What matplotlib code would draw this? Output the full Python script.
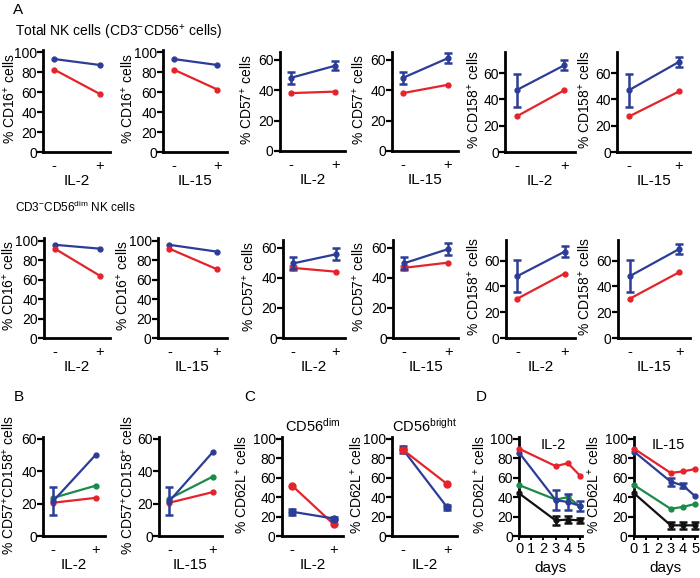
import matplotlib
matplotlib.use("Agg")
import matplotlib.pyplot as plt
import numpy as np

plt.rcParams['font.family'] = ['Liberation Sans', 'DejaVu Sans']
plt.rcParams['mathtext.fontset'] = 'custom'
plt.rcParams['mathtext.rm'] = 'Liberation Sans'
plt.rcParams['mathtext.it'] = 'Liberation Sans:italic'
plt.rcParams['mathtext.bf'] = 'Liberation Sans:bold'

BLUE = '#2b3d97'
RED = '#e5232b'
GREEN = '#1b8a4a'
BLACK = '#111111'

# ---------------- data ----------------
cats = ['-', '+']
# Row A1 (total NK)
a1_cd16_il2_blue = [93, 87]
a1_cd16_il2_red = [82.5, 58]
a1_cd16_il15_blue = [93, 87]
a1_cd16_il15_red = [82.5, 62.5]
a1_cd57_il2_blue = [48, 56]
a1_cd57_il2_blue_err = [4, 3]
a1_cd57_il2_red = [38, 39]
a1_cd57_il15_blue = [48, 61]
a1_cd57_il15_blue_err = [4, 3.5]
a1_cd57_il15_red = [38, 43.5]
a1_cd158_il2_blue = [47, 66]
a1_cd158_il2_blue_err = [12.5, 4]
a1_cd158_il2_red = [27, 47]
a1_cd158_il15_blue = [47, 68.5]
a1_cd158_il15_blue_err = [12.5, 4]
a1_cd158_il15_red = [27, 46]
# Row A2 (CD56dim)
a2_cd16_il2_blue = [96, 92]
a2_cd16_il2_red = [92, 64]
a2_cd16_il15_blue = [96, 89]
a2_cd16_il15_red = [92, 71]
a2_cd57_il2_blue = [49.5, 55.5]
a2_cd57_il2_blue_err = [4, 4]
a2_cd57_il2_red = [46.5, 44]
a2_cd57_il2_red_err = [1.5, 0]
a2_cd57_il15_blue = [49.5, 59]
a2_cd57_il15_blue_err = [4, 4]
a2_cd57_il15_red = [46.5, 50]
a2_cd57_il15_red_err = [1.5, 0]
a2_cd158_il2_blue = [48, 67]
a2_cd158_il2_blue_err = [12.5, 4]
a2_cd158_il2_red = [30.5, 50]
a2_cd158_il15_blue = [48, 69]
a2_cd158_il15_blue_err = [12.5, 4]
a2_cd158_il15_red = [30.5, 51]
# B
b_il2_blue = [21.5, 50]
b_il2_blue_err = [8.5, 0]
b_il2_green = [23.5, 31]
b_il2_red = [20.5, 23.5]
b_il15_blue = [21.5, 51.5]
b_il15_blue_err = [8.5, 0]
b_il15_green = [23, 36.5]
b_il15_red = [20.5, 27]
# C
c_dim_red = [52, 12]
c_dim_blue = [25, 18]
c_dim_blue_err = [3, 1.5]
c_bright_red = [89, 53.5]
c_bright_blue = [89.5, 29.5]
c_bright_blue_err = [3.5, 2.5]
# D
d_days = [0, 3, 4, 5]
d_il2_red = [90, 72, 75, 62]
d_il2_blue = [86, 37, 35, 31]
d_il2_blue_err = [0, 10, 8, 5]
d_il2_green = [52.5, 37.5, 40, 30.5]
d_il2_black = [44, 16, 17, 16]
d_il2_black_err = [0, 5, 4, 3]
d_il15_red = [90, 65, 66.5, 69]
d_il15_blue = [87, 56, 52, 41]
d_il15_blue_err = [0, 4, 3, 0]
d_il15_green = [52.5, 28, 30, 33]
d_il15_black = [44, 11, 11, 11]
d_il15_black_err = [0, 3.5, 3.5, 3.5]

# ---------------- layout helpers ----------------
W, H = 700, 578
fig = plt.figure(figsize=(7.0, 5.78), dpi=100)


def axpx(left, top, right, bottom):
    ax = fig.add_axes([left / W, 1 - bottom / H, (right - left) / W, (bottom - top) / H])
    ax._px = (left, right)
    return ax


def style(ax, ylim, yticks, ylabel, label_right, xlabel=None, cat=True):
    ax.set_ylim(*ylim)
    ax.set_yticks(yticks)
    for s in ['top', 'right']:
        ax.spines[s].set_visible(False)
    for s in ['left', 'bottom']:
        ax.spines[s].set_linewidth(2.0)
    ax.tick_params(axis='y', direction='out', length=4, width=1.6, pad=0.5, labelsize=10)
    if cat:
        ax.set_xlim(-0.24, 1.22)
        ax.set_xticks([0, 1])
        ax.set_xticklabels(cats)
        ax.tick_params(axis='x', length=0, pad=5, labelsize=10.5)
    ax.set_ylabel(ylabel, fontsize=10)
    left, right = ax._px
    ax.yaxis.set_label_coords((label_right - left) / (right - left), 0.52)
    if xlabel:
        ax.set_xlabel(xlabel, fontsize=11, labelpad=1)


def line(ax, y, color, err=None, ms=3.5, x=None):
    if x is None:
        x = np.arange(len(y))
    ax.plot(x, y, color=color, lw=1.6, marker='o', ms=ms, clip_on=False, zorder=3)
    if err is not None:
        e = np.array(err, dtype=float)
        m = e > 0
        ax.errorbar(np.array(x)[m], np.array(y)[m], yerr=e[m], fmt='none', ecolor=color,
                    elinewidth=1.8, capsize=3, capthick=1.8, clip_on=False, zorder=3)


cd16 = r'% CD16$^{+}$ cells'
cd57 = r'% CD57$^{+}$ cells'
cd158 = r'% CD158$^{+}$ cells'

# Row 1
ax = axpx(43, 50, 110, 152); style(ax, (0, 102), range(0, 101, 20), cd16, 18, 'IL-2')
line(ax, a1_cd16_il2_blue, BLUE); line(ax, a1_cd16_il2_red, RED)
ax = axpx(163, 50, 227, 152); style(ax, (0, 102), range(0, 101, 20), cd16, 136, 'IL-15')
line(ax, a1_cd16_il15_blue, BLUE); line(ax, a1_cd16_il15_red, RED)
ax = axpx(280, 52, 345, 151); style(ax, (0, 65), range(0, 61, 20), cd57, 255, 'IL-2')
line(ax, a1_cd57_il2_red, RED); line(ax, a1_cd57_il2_blue, BLUE, a1_cd57_il2_blue_err)
ax = axpx(392, 52, 458, 151); style(ax, (0, 65), range(0, 61, 20), cd57, 367, 'IL-15')
line(ax, a1_cd57_il15_red, RED); line(ax, a1_cd57_il15_blue, BLUE, a1_cd57_il15_blue_err)
ax = axpx(505, 52, 575, 152); style(ax, (0, 76), range(0, 61, 20), cd158, 482, 'IL-2')
line(ax, a1_cd158_il2_red, RED); line(ax, a1_cd158_il2_blue, BLUE, a1_cd158_il2_blue_err)
ax = axpx(617, 52, 690, 152); style(ax, (0, 76), range(0, 61, 20), cd158, 593, 'IL-15')
line(ax, a1_cd158_il15_red, RED); line(ax, a1_cd158_il15_blue, BLUE, a1_cd158_il15_blue_err)

# Row 2
ax = axpx(44, 238, 110, 338); style(ax, (0, 103), range(0, 101, 20), cd16, 17, 'IL-2')
line(ax, a2_cd16_il2_blue, BLUE); line(ax, a2_cd16_il2_red, RED)
ax = axpx(158, 238, 227, 338); style(ax, (0, 103), range(0, 101, 20), cd16, 131, 'IL-15')
line(ax, a2_cd16_il15_blue, BLUE); line(ax, a2_cd16_il15_red, RED)
ax = axpx(283, 240, 345, 338); style(ax, (0, 65), range(0, 61, 20), cd57, 257, 'IL-2')
line(ax, a2_cd57_il2_red, RED, a2_cd57_il2_red_err); line(ax, a2_cd57_il2_blue, BLUE, a2_cd57_il2_blue_err)
ax = axpx(393, 240, 458, 338); style(ax, (0, 65), range(0, 61, 20), cd57, 367, 'IL-15')
line(ax, a2_cd57_il15_red, RED, a2_cd57_il15_red_err); line(ax, a2_cd57_il15_blue, BLUE, a2_cd57_il15_blue_err)
ax = axpx(506, 240, 575, 338); style(ax, (0, 76), range(0, 61, 20), cd158, 482, 'IL-2')
line(ax, a2_cd158_il2_red, RED); line(ax, a2_cd158_il2_blue, BLUE, a2_cd158_il2_blue_err)
ax = axpx(618, 240, 690, 338); style(ax, (0, 76), range(0, 61, 20), cd158, 593, 'IL-15')
line(ax, a2_cd158_il15_red, RED); line(ax, a2_cd158_il15_blue, BLUE, a2_cd158_il15_blue_err)

# Row 3 - B
b_lab = r'% CD57$^{+}$CD158$^{+}$ cells'
ax = axpx(43, 437, 105, 536); style(ax, (0, 61), range(0, 61, 20), b_lab, 17, 'IL-2')
line(ax, b_il2_red, RED); line(ax, b_il2_green, GREEN); line(ax, b_il2_blue, BLUE, b_il2_blue_err)
ax = axpx(159, 437, 222, 536); style(ax, (0, 61), range(0, 61, 20), b_lab, 136, 'IL-15')
line(ax, b_il15_red, RED); line(ax, b_il15_green, GREEN); line(ax, b_il15_blue, BLUE, b_il15_blue_err)

# C
c_lab = r'% CD62L$^{+}$ cells'
ax = axpx(282, 437, 343, 536); style(ax, (0, 102), range(0, 101, 20), c_lab, 250, 'IL-2')
line(ax, c_dim_red, RED, ms=5); line(ax, c_dim_blue, BLUE, c_dim_blue_err, ms=5)
ax.set_title(r'CD56$^{\mathrm{dim}}$', fontsize=10.5, pad=4)
ax = axpx(392, 437, 457, 536); style(ax, (0, 102), range(0, 101, 20), c_lab, 365, 'IL-2')
line(ax, c_bright_blue, BLUE, c_bright_blue_err, ms=5); line(ax, c_bright_red, RED, ms=5)
ax.set_title(r'CD56$^{\mathrm{bright}}$', fontsize=10.5, pad=4)

# D
for left, right, lr, title, red, blue, berr, green, black, kerr in [
    (519, 582, 488, 'IL-2', d_il2_red, d_il2_blue, d_il2_blue_err, d_il2_green, d_il2_black, d_il2_black_err),
    (634, 697, 602, 'IL-15', d_il15_red, d_il15_blue, d_il15_blue_err, d_il15_green, d_il15_black, d_il15_black_err),
]:
    ax = axpx(left, 437, right, 536)
    style(ax, (0, 102), range(0, 101, 20), c_lab, lr, 'days', cat=False)
    ax.set_xlim(0, 5.15)
    ax.set_xticks(range(0, 6))
    ax.tick_params(axis='x', direction='out', length=3, width=1.4, pad=1, labelsize=10.5)
    ax.xaxis.labelpad = 4
    line(ax, black, BLACK, kerr, x=d_days)
    line(ax, green, GREEN, x=d_days)
    line(ax, blue, BLUE, berr, x=d_days)
    line(ax, red, RED, x=d_days)
    ax.text(0.55, 0.99, title, transform=ax.transAxes, ha='center', va='top', fontsize=10.5)

# Panel letters and section titles
fig.text(13 / W, 1 - 10 / H, 'A', fontsize=11, va='center', ha='left')
fig.text(15 / W, 1 - 32 / H, r'Total NK cells (CD3$^{-}$CD56$^{+}$ cells)', fontsize=10, va='center', ha='left')
fig.text(15 / W, 1 - 207 / H, r'CD3$^{-}$CD56$^{\mathrm{dim}}$ NK cells', fontsize=8.5, va='center', ha='left')
fig.text(14 / W, 1 - 397 / H, 'B', fontsize=11, va='center', ha='left')
fig.text(244 / W, 1 - 397 / H, 'C', fontsize=11, va='center', ha='left')
fig.text(476 / W, 1 - 397 / H, 'D', fontsize=11, va='center', ha='left')

fig.savefig('out.png', dpi=100)
